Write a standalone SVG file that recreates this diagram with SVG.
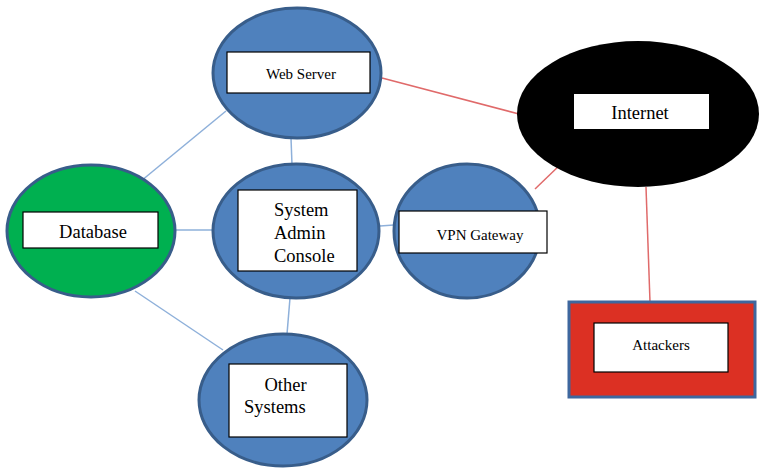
<svg xmlns="http://www.w3.org/2000/svg" width="762" height="468" viewBox="0 0 762 468">
<style>
.node{fill:#4F81BD;stroke:#385D8A;stroke-width:3}
.lbl{fill:#fff;stroke:#000;stroke-width:1.2}
.blue{stroke:#8EB0DA;stroke-width:1.5}
.red{stroke:#E06A6A;stroke-width:1.5}
</style>
<rect width="762" height="468" fill="#fff"/>
<g id="connectors">
<line class="red" x1="382" y1="78" x2="519" y2="114"/>
<line class="red" x1="535" y1="189" x2="562" y2="163"/>
<line class="red" x1="646" y1="187" x2="650" y2="302"/>
<line class="blue" x1="226" y1="111" x2="141" y2="181"/>
<line class="blue" x1="291" y1="138" x2="292" y2="165"/>
<line class="blue" x1="175" y1="230" x2="213" y2="230"/>
<line class="blue" x1="135" y1="291" x2="223" y2="350"/>
<line class="blue" x1="380" y1="226" x2="394" y2="225"/>
<line class="blue" x1="290" y1="298" x2="287" y2="334"/>
</g>
<g font-family="'Liberation Serif', 'Times New Roman', 'DejaVu Serif', serif" fill="#000">
<g id="web-server">
<ellipse class="node" cx="297" cy="73" rx="84" ry="65"/>
<rect class="lbl" x="227" y="52" width="143" height="41"/>
<text x="301" y="79" font-size="15" text-anchor="middle">Web Server</text>
</g>
<g id="internet">
<ellipse cx="638" cy="114" rx="121" ry="73" fill="#000"/>
<rect x="574" y="94" width="135" height="35" fill="#fff"/>
<text x="640" y="119" font-size="18.5" text-anchor="middle">Internet</text>
</g>
<g id="database">
<ellipse cx="91" cy="231" rx="84" ry="66" fill="#00B050" stroke="#385D8A" stroke-width="3"/>
<rect class="lbl" x="23" y="212" width="135" height="36"/>
<text x="93" y="238" font-size="18.5" text-anchor="middle">Database</text>
</g>
<g id="system-admin-console">
<ellipse class="node" cx="296" cy="231" rx="83" ry="67"/>
<rect class="lbl" x="238" y="190" width="119" height="81"/>
<text font-size="18.5" x="274" y="216">System</text>
<text font-size="18.5" x="274" y="239">Admin</text>
<text font-size="18.5" x="274" y="262">Console</text>
</g>
<g id="vpn-gateway">
<ellipse class="node" cx="467" cy="231" rx="73" ry="67"/>
<rect class="lbl" x="399" y="211" width="148" height="42"/>
<text x="480" y="240" font-size="15" text-anchor="middle">VPN Gateway</text>
</g>
<g id="other-systems">
<ellipse class="node" cx="283" cy="400" rx="84" ry="66"/>
<rect class="lbl" x="229" y="364" width="118" height="73"/>
<text font-size="18.5" x="285.5" y="391" text-anchor="middle">Other</text>
<text font-size="18.5" x="244" y="413">Systems</text>
</g>
<g id="attackers">
<rect x="569" y="302" width="186" height="95" fill="#DC3023" stroke="#3E679E" stroke-width="3"/>
<rect class="lbl" x="594" y="323" width="134" height="49"/>
<text x="661" y="350" font-size="15" text-anchor="middle">Attackers</text>
</g>
</g>
</svg>
